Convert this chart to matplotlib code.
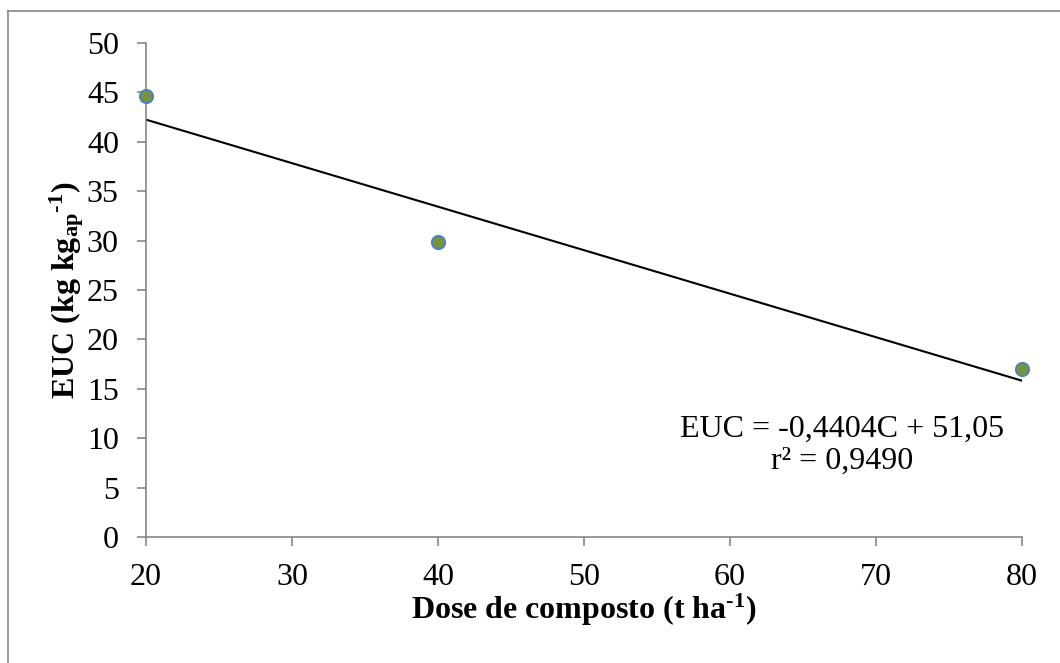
import matplotlib
matplotlib.use("Agg")
import matplotlib.pyplot as plt
from matplotlib.lines import Line2D

# doses of compost (t/ha) and EUC values (kg/kg)
dose = [20, 40, 80]
euc = [44.6, 29.9, 17.0]

# linear trend shown on the chart
slope = -0.4404
intercept = 51.05
trend_x = [20, 80]

x_ticks = [20, 30, 40, 50, 60, 70, 80]
y_ticks = [0, 5, 10, 15, 20, 25, 30, 35, 40, 45, 50]

plt.rcParams["font.family"] = ["Liberation Serif", "DejaVu Serif"]
# mathtext is only used in the (bold) axis labels
plt.rcParams["mathtext.fontset"] = "custom"
plt.rcParams["mathtext.rm"] = "Liberation Serif:bold"
plt.rcParams["mathtext.bf"] = "Liberation Serif:bold"
plt.rcParams["mathtext.it"] = "Liberation Serif:bold"

axis_gray = "#868686"

fig = plt.figure(figsize=(10.6, 6.63), dpi=100)
ax = fig.add_axes([146 / 1060, 1 - 537 / 663, 876 / 1060, 494 / 663])

# trendline
trend_y = [slope * x + intercept for x in trend_x]
ax.plot(trend_x, trend_y, color="black", linewidth=1.5, zorder=2)

# data points
ax.plot(dose, euc, linestyle="none", marker="o", markersize=9.5,
        markerfacecolor="#77933C", markeredgecolor="#4F81BD",
        markeredgewidth=1.4, zorder=3, clip_on=False)

ax.set_xlim(20, 80)
ax.set_ylim(0, 50)
ax.set_xticks(x_ticks)
ax.set_yticks(y_ticks)

for side in ("top", "right"):
    ax.spines[side].set_visible(False)
for side in ("left", "bottom"):
    ax.spines[side].set_color(axis_gray)
    ax.spines[side].set_linewidth(1.2)

ax.tick_params(axis="both", direction="out", length=6.5, width=1.2,
               color=axis_gray, labelsize=23, pad=13)
ax.tick_params(axis="x", pad=12)

ax.set_xlabel(r"Dose de composto (t ha$^{\text{-1}}$)", fontsize=23,
              fontweight="bold")
ax.set_ylabel(r"EUC (kg kg$_{\mathrm{ap}}$$^{\text{-1}}$)", fontsize=23,
              fontweight="bold")
ax.xaxis.set_label_coords(0.5, -0.11)
ax.yaxis.set_label_coords(-0.068, 0.5)

ax.text(67.7, 9.3, "EUC = -0,4404C + 51,05\nr\u00b2 = 0,9490", fontsize=23,
        ha="center", va="center", linespacing=1.15)

# chart area border (only top and left edges visible)
fig.add_artist(Line2D([8 / 1060, 1.0], [1 - 11 / 663, 1 - 11 / 663],
                      transform=fig.transFigure, color=axis_gray, linewidth=1.2))
fig.add_artist(Line2D([8 / 1060, 8 / 1060], [0.0, 1 - 11 / 663],
                      transform=fig.transFigure, color=axis_gray, linewidth=1.2))

fig.savefig("out.png", dpi=100)
